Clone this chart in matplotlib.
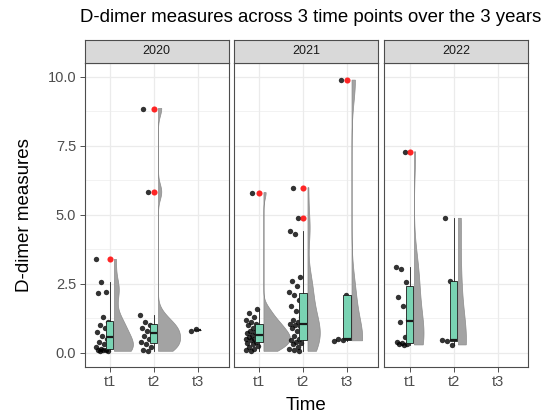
import numpy as np
import matplotlib
matplotlib.use("Agg")
import matplotlib.pyplot as plt
from matplotlib.patches import Polygon

plt.rcParams['font.family'] = ['Liberation Sans', 'DejaVu Sans']

# ---------------- data ----------------
years = ["2020", "2021", "2022"]
times = ["t1", "t2", "t3"]

d2020_t1 = [0.05, 0.05, 0.08, 0.10, 0.10, 0.12, 0.20, 0.30, 0.40, 0.50,
            0.60, 0.75, 0.90, 1.00, 1.10, 1.30, 2.15, 2.20, 2.57, 3.38]
d2020_t2 = [0.05, 0.10, 0.20, 0.30, 0.40, 0.50, 0.60, 0.70, 0.80, 0.90,
            1.00, 1.10, 1.37, 5.82, 8.85]
d2020_t3 = [0.85, 0.80]
d2021_t1 = [0.05, 0.10, 0.15, 0.20, 0.25, 0.30, 0.35, 0.40, 0.45, 0.50,
            0.50, 0.55, 0.60, 0.65, 0.70, 0.75, 0.80, 0.85, 0.90, 1.00,
            1.05, 1.10, 1.20, 1.30, 1.45, 1.60, 5.80]
d2021_t2 = [0.05, 0.10, 0.15, 0.20, 0.30, 0.35, 0.40, 0.45, 0.50, 0.60,
            0.70, 0.80, 0.90, 0.95, 1.00, 1.05, 1.10, 1.20, 1.30, 1.50,
            1.70, 1.90, 2.10, 2.20, 2.40, 2.60, 2.75, 4.30, 4.40, 4.87,
            5.98]
d2021_t3 = [0.43, 0.46, 0.50, 2.09, 9.88]
d2022_t1 = [0.28, 0.30, 0.32, 0.35, 0.40, 0.58, 1.10, 1.18, 1.69, 2.00,
            2.55, 3.05, 3.12, 7.28]
d2022_t2 = [0.28, 0.42, 0.46, 2.60, 4.87]
d2022_t3 = []

data = {
    ("2020", "t1"): d2020_t1, ("2020", "t2"): d2020_t2, ("2020", "t3"): d2020_t3,
    ("2021", "t1"): d2021_t1, ("2021", "t2"): d2021_t2, ("2021", "t3"): d2021_t3,
    ("2022", "t1"): d2022_t1, ("2022", "t2"): d2022_t2, ("2022", "t3"): d2022_t3,
}

title = "D-dimer measures across 3 time points over the 3 years"
y_ticks = [0.0, 2.5, 5.0, 7.5, 10.0]

# ---------------- helpers ----------------
def bw_nrd0(x):
    x = np.asarray(x, float)
    n = len(x)
    sd = np.std(x, ddof=1)
    q75, q25 = np.percentile(x, [75, 25])
    lo = min(sd, (q75 - q25) / 1.34)
    if lo <= 0:
        lo = sd if sd > 0 else 1.0
    return 0.9 * lo * n ** -0.2


def kde(x, grid, bw):
    x = np.asarray(x, float)
    z = (grid[:, None] - x[None, :]) / bw
    return np.exp(-0.5 * z ** 2).sum(1) / (len(x) * bw * np.sqrt(2 * np.pi))


# ---------------- layout ----------------
W, H = 547, 419
fig = plt.figure(figsize=(W / 100, H / 100), dpi=100)

panel_left = [84.5, 234, 384.5]
panel_w = 144
p_top, p_bot = 63, 367
strip_top = 40

ylim = (-0.52, 10.5)
xlim = (0.43, 3.70)

grid_col = "#ebebeb"
border_col = "#4d4d4d"
box_fill = "#79d3b3"
violin_fill = "#a3a3a3"

# violins (flat, equal-area scaling)
violins = {}
maxv = 0
for key, vals in data.items():
    if len(vals) >= 3:
        v = np.asarray(vals, float)
        bw = bw_nrd0(v)
        g = np.linspace(v.min(), v.max(), 512)
        d = kde(v, g, bw)
        violins[key] = (g, d)
        maxv = max(maxv, d.max())
max_width = 0.6

violin_offset = 0.11
box_w = 0.17
pt_center = -0.17
pt_spread = 0.15

for pi, yr in enumerate(years):
    l = panel_left[pi] / W
    b = 1 - p_bot / H
    w = panel_w / W
    h = (p_bot - p_top) / H
    ax = fig.add_axes([l, b, w, h])
    ax.set_xlim(*xlim)
    ax.set_ylim(*ylim)
    ax.set_facecolor("white")

    for yv in y_ticks:
        ax.axhline(yv, color=grid_col, lw=0.9, zorder=0)
    for yv in [1.25, 3.75, 6.25, 8.75]:
        ax.axhline(yv, color=grid_col, lw=0.45, zorder=0)
    for xi in range(1, 4):
        ax.axvline(xi, color=grid_col, lw=0.9, zorder=0)

    for ti, t in enumerate(times):
        xc = ti + 1
        vals = data[(yr, t)]
        if len(vals) == 0:
            continue
        v = np.asarray(vals, float)
        if (yr, t) in violins:
            g, d = violins[(yr, t)]
            wv = d / maxv * max_width
            xs = np.concatenate([xc + violin_offset + wv,
                                 np.full(len(g), xc + violin_offset)])
            ys = np.concatenate([g, g[::-1]])
            ax.add_patch(Polygon(np.column_stack([xs, ys]), closed=True,
                                 facecolor=violin_fill, edgecolor="#8c8c8c",
                                 lw=0.5, zorder=2))
        idx = np.arange(len(v))
        frac = (idx * 0.6180339887 + 0.31 * (ti + 1) + 0.17 * pi) % 1.0
        xj = xc + pt_center + pt_spread * (2 * frac - 1)
        ax.scatter(xj, v, s=15, color="black", alpha=0.8, lw=0, zorder=3)
        bp = ax.boxplot([v], positions=[xc], widths=box_w, patch_artist=True,
                        whis=1.5, manage_ticks=False,
                        boxprops=dict(facecolor=box_fill, edgecolor="#1a1a1a", lw=0.6),
                        medianprops=dict(color="#1a1a1a", lw=1.6),
                        whiskerprops=dict(color="#1a1a1a", lw=0.6),
                        capprops=dict(lw=0),
                        flierprops=dict(marker="o", markerfacecolor="red",
                                        markeredgecolor="none", markersize=4.4,
                                        alpha=0.85))
        for art in bp["boxes"] + bp["medians"] + bp["whiskers"] + bp["fliers"]:
            art.set_zorder(4)

    ax.set_xticks([1, 2, 3])
    ax.set_xticklabels(times)
    ax.set_yticks(y_ticks)
    if pi == 0:
        ax.set_yticklabels([f"{t:.1f}" for t in y_ticks])
    else:
        ax.tick_params(axis="y", left=False, labelleft=False)
    ax.tick_params(axis="both", colors="#333333", labelcolor="#4d4d4d",
                   labelsize=10.5, length=3.5, width=0.6, pad=2.5)
    for sp in ax.spines.values():
        sp.set_color(border_col)
        sp.set_linewidth(0.8)
        sp.set_zorder(6)

    sax = fig.add_axes([l, 1 - p_top / H, w, (p_top - strip_top) / H])
    sax.set_facecolor("#d9d9d9")
    sax.set_xticks([])
    sax.set_yticks([])
    for sp in sax.spines.values():
        sp.set_color(border_col)
        sp.set_linewidth(0.8)
    sax.text(0.5, 0.5, yr, ha="center", va="center", fontsize=9,
             color="#1a1a1a", transform=sax.transAxes)

fig.text(80 / W, 1 - 18 / H, title, ha="left", va="center", fontsize=13.4,
         color="black")
fig.text(25 / W, 1 - 215 / H, "D-dimer measures", rotation=90,
         ha="center", va="center", fontsize=13.5, color="black")
fig.text(306.5 / W, 1 - 405 / H, "Time", ha="center", va="center",
         fontsize=13.5, color="black")

fig.savefig("out.png", dpi=100)
